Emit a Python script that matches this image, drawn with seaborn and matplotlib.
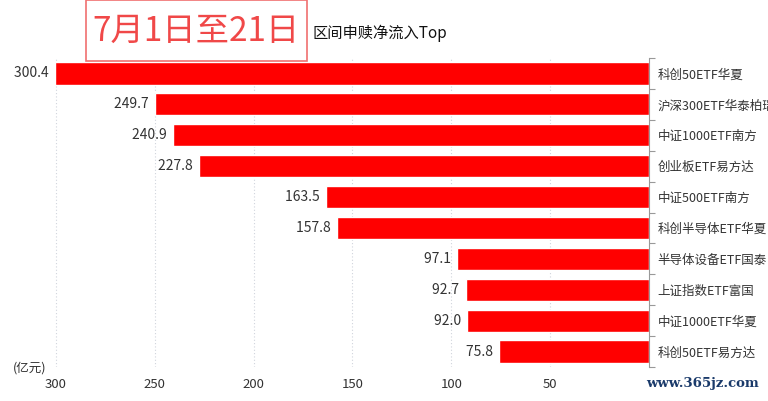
import matplotlib
matplotlib.use('Agg')
import matplotlib.pyplot as plt
import matplotlib.patches as patches
import seaborn as sns
import pandas as pd
import numpy as np

funds = ['科创50ETF华夏', '沪深300ETF华泰柏瑞', '中证1000ETF南方', '创业板ETF易方达',
         '中证500ETF南方', '科创半导体ETF华夏', '半导体设备ETF国泰', '上证指数ETF富国',
         '中证1000ETF华夏', '科创50ETF易方达']
inflow = [300.4, 249.7, 240.9, 227.8, 163.5, 157.8, 97.1, 92.7, 92.0, 75.8]
x_ticks = [300, 250, 200, 150, 100, 50]

sns.set_style('white')
plt.rcParams['font.family'] = ['Noto Sans CJK SC', 'DejaVu Sans']

df = pd.DataFrame({'fund': funds, 'inflow': inflow})

fig = plt.figure(figsize=(7.68, 4.01), dpi=100)
ax = fig.add_axes([55 / 768, 1 - 367 / 401, (649 - 55) / 768, 309 / 401])

sns.barplot(data=df, x='inflow', y='fund', orient='h', color='#ff0000',
            saturation=1, width=0.72, ax=ax)
ax.set_xlim(max(inflow), 0)
ax.set_ylim(len(funds) - 0.5, -0.5)

# dotted vertical grid
for t in x_ticks:
    ax.axvline(t, color='#d0d4dc', lw=0.8, ls=(0, (1, 2)), zorder=0)

ax.set_xticks(x_ticks)
ax.set_xticklabels([str(t) for t in x_ticks], fontsize=9.5, color='#333333')
ax.tick_params(axis='x', length=0, pad=8)
ax.set_xlabel('')
ax.set_ylabel('')

# right axis with category labels
ax.yaxis.tick_right()
ax.set_yticks(np.arange(len(funds)))
ax.set_yticklabels(funds, fontsize=9, color='#333333')
ax.tick_params(axis='y', which='major', length=0, pad=6)
ax.set_yticks(np.arange(len(funds) + 1) - 0.5, minor=True)
ax.tick_params(axis='y', which='minor', length=4, width=0.8, color='#999999',
               right=True, left=False)

for s in ['top', 'left', 'bottom']:
    ax.spines[s].set_visible(False)
ax.spines['right'].set_color('#999999')
ax.spines['right'].set_linewidth(0.8)

# value labels
for i, v in enumerate(inflow):
    ax.text(v, i, f'{v:.1f}  ', ha='right', va='center', fontsize=10, color='#333333')

fig.text(13 / 768, 1 - 368 / 401, '(亿元)', fontsize=9, color='#333333', va='center')

# header box
fig.patches.append(patches.Rectangle((86 / 768, 1 - 61 / 401), 221 / 768, 61 / 401,
                                     transform=fig.transFigure, fill=True, facecolor='white',
                                     edgecolor='#f07070', lw=1.2))
fig.text(196 / 768, 1 - 31 / 401, '7月1日至21日', fontsize=24, color='#f04848',
         ha='center', va='center')
fig.text(312 / 768, 1 - 33 / 401, '区间申赎净流入Top', fontsize=11, color='#111111',
         ha='left', va='center')

fig.text(702 / 768, 1 - 384 / 401, 'www.365jz.com', fontsize=9.5, color='#1a3a6a',
         family='DejaVu Serif', fontweight='bold', ha='center', va='center')

fig.savefig('out.png', dpi=100)
